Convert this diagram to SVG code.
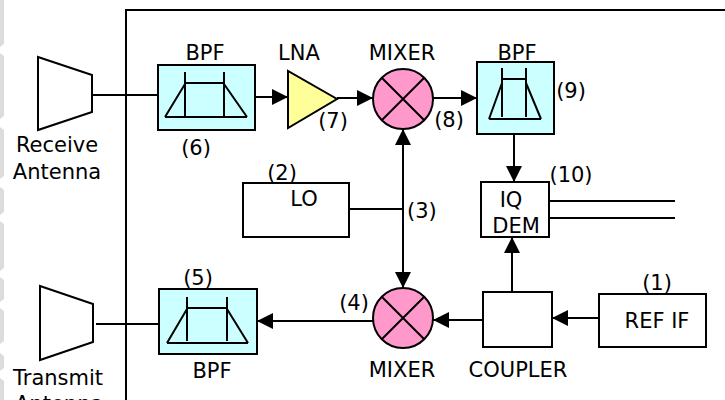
<svg xmlns="http://www.w3.org/2000/svg" width="725" height="400" viewBox="0 0 725 400">
<defs>
<style>
.s{fill:none;stroke:#000;stroke-width:2}
.box{fill:#fff;stroke:#000;stroke-width:2}
.bpf{fill:#ccffff;stroke:#000;stroke-width:2}
.mix{fill:#ff99cc;stroke:#000;stroke-width:2}
.lna{fill:#ffff99;stroke:#000;stroke-width:2}
text{font-family:"DejaVu Sans","Verdana",sans-serif;font-size:21px;fill:#000}
.m{text-anchor:middle}
.bg{fill:#dcdcdc}
</style>
<marker id="ah" viewBox="0 0 16 16" refX="16" refY="8" markerWidth="16" markerHeight="16" markerUnits="userSpaceOnUse" orient="auto-start-reverse">
<path d="M0,0 L16,8 L0,16 z" fill="#000"/>
</marker>
</defs>
<rect width="725" height="400" fill="#fff"/>
<g id="bg-strips">
<path class="bg" d="M0,0 H4 V44 L0,47 Z"/>
<path class="bg" d="M0,53 L4,56 V116 L0,119 Z"/>
<path class="bg" d="M0,127 L4,130 V176 L0,179 Z"/>
<path class="bg" d="M0,187 L4,190 V212 L0,215 Z"/>
<path class="bg" d="M0,221 L4,224 V268 L0,271 Z"/>
<path class="bg" d="M0,277 L4,280 V299 L0,302 Z"/>
<path class="bg" d="M0,308 L4,311 V341 L0,344 Z"/>
<path class="bg" d="M0,353 L4,356 V368 L0,371 Z"/>
<path class="bg" d="M0,378 L4,381 V400 H0 Z"/>
</g>
<g id="frame"><path class="s" d="M126,400 V10 H725"/></g>
<g id="connectors">
<path class="s" d="M92,95 H158"/>
<path class="s" d="M96,324 H159"/>
<path class="s" d="M255,97 H288" marker-end="url(#ah)"/>
<path class="s" d="M337,98 H373" marker-end="url(#ah)"/>
<path class="s" d="M433,98 H477" marker-end="url(#ah)"/>
<path class="s" d="M514,134 V182" marker-end="url(#ah)"/>
<path class="s" d="M512,292 V237" marker-end="url(#ah)"/>
<path class="s" d="M599,318 H552" marker-end="url(#ah)"/>
<path class="s" d="M483,320 H433" marker-end="url(#ah)"/>
<path class="s" d="M373,321 H257" marker-end="url(#ah)"/>
<path class="s" d="M403,129 V288" marker-start="url(#ah)" marker-end="url(#ah)"/>
<path class="s" d="M349,209 H403"/>
<path class="s" d="M549,201 H675 M549,218 H675"/>
</g>
<g id="rx-antenna">
<path class="box" d="M38,57 L92,75 V112 L38,130 Z"/>
<text class="m" x="57" y="152">Receive</text>
<text class="m" x="57" y="179">Antenna</text>
</g>
<g id="tx-antenna">
<path class="box" d="M40,286 L93,304 V342 L40,360 Z"/>
<text x="13" y="385">Transmit</text>
<text x="15" y="411">Antenna</text>
</g>
<g id="bpf6">
<rect class="bpf" x="158" y="65" width="97" height="65"/>
<path class="s" d="M185,72 V117 M224,72 V117 M185,83 H224 M165,117 H247 M165,117 L185,84 M224,84 L247,117"/>
<text class="m" x="205" y="60">BPF</text>
<text class="m" x="196" y="155">(6)</text>
</g>
<g id="lna">
<path class="lna" d="M288,71 V128 L337,99 Z"/>
<text class="m" x="299" y="60">LNA</text>
<text class="m" x="333" y="128">(7)</text>
</g>
<g id="mixer-top">
<circle class="mix" cx="403" cy="99" r="30"/>
<path class="s" d="M382,78 L424,120 M424,78 L382,120"/>
<text class="m" x="402" y="60">MIXER</text>
<text class="m" x="449" y="127">(8)</text>
</g>
<g id="bpf9">
<rect class="bpf" x="477" y="62" width="77" height="72"/>
<path class="s" d="M502,68 V117 M526,68 V117 M502,79 H526 M489,119 H541 M489,119 L502,83 M526,83 L541,119"/>
<text class="m" x="517" y="60">BPF</text>
<text class="m" x="571" y="98">(9)</text>
</g>
<g id="iq-dem">
<rect class="box" x="481" y="182" width="68" height="55"/>
<text class="m" x="511" y="207">IQ</text>
<text class="m" x="516" y="233">DEM</text>
<text class="m" x="571" y="182">(10)</text>
</g>
<g id="lo">
<rect class="box" x="243" y="183" width="106" height="54"/>
<text class="m" x="304" y="206">LO</text>
<text class="m" x="282" y="180">(2)</text>
<text x="407" y="218">(3)</text>
</g>
<g id="mixer-bottom">
<circle class="mix" cx="403" cy="318" r="30"/>
<path class="s" d="M382,297 L424,339 M424,297 L382,339"/>
<text class="m" x="402" y="377">MIXER</text>
<text class="m" x="354" y="310">(4)</text>
</g>
<g id="bpf5">
<rect class="bpf" x="159" y="289" width="98" height="65"/>
<path class="s" d="M187,297 V341 M227,297 V341 M187,308 H227 M167,343 H248 M167,343 L187,309 M227,309 L248,343"/>
<text class="m" x="198" y="285">(5)</text>
<text class="m" x="212" y="378">BPF</text>
</g>
<g id="coupler">
<rect class="box" x="483" y="292" width="69" height="55"/>
<text class="m" x="518" y="377">COUPLER</text>
</g>
<g id="ref-if">
<rect class="box" x="599" y="294" width="107" height="53"/>
<text class="m" x="657" y="328">REF IF</text>
<text class="m" x="657" y="290">(1)</text>
</g>
</svg>
